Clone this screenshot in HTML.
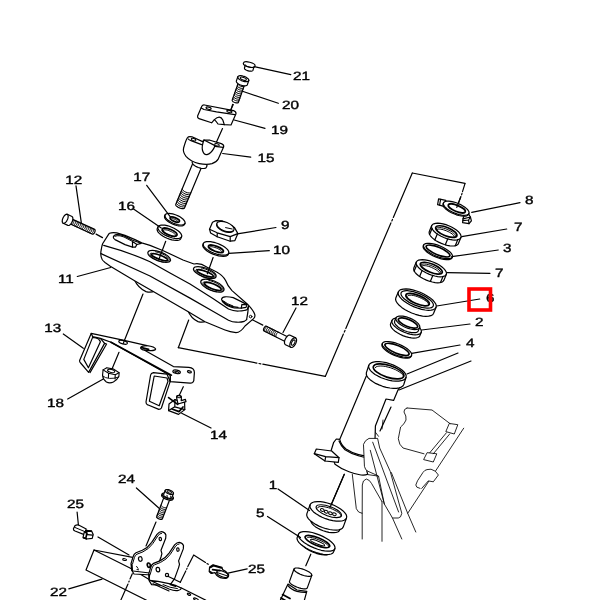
<!DOCTYPE html>
<html><head><meta charset="utf-8"><title>Steering parts diagram</title>
<style>
html,body{margin:0;padding:0;background:#fff;}
body{width:600px;height:600px;overflow:hidden;}
svg{display:block;}
text{font-family:"Liberation Sans",sans-serif;font-size:12px;fill:#000;stroke:#000;stroke-width:0.4;text-rendering:geometricPrecision;}
.l{stroke:#000;stroke-width:1.2;fill:none;stroke-linecap:round;stroke-linejoin:round;}
.w{stroke:#000;stroke-width:1.2;fill:#fff;stroke-linecap:round;stroke-linejoin:round;}
.t{stroke:#000;stroke-width:1.0;fill:none;stroke-linecap:round;stroke-linejoin:round;}
.f{stroke:#000;stroke-width:0.85;fill:none;stroke-linecap:round;stroke-linejoin:round;}
.k{stroke:#000;stroke-width:1.7;fill:none;stroke-linecap:round;stroke-linejoin:round;}
</style></head><body>
<svg width="600" height="600" viewBox="0 0 600 600">
<rect width="600" height="600" fill="#fff"/>
<!-- p_10_guides.py -->
<g><line class="l" x1="188.7" y1="320" x2="178.3" y2="347.7"/>
<line class="l" x1="178.3" y1="347.7" x2="256.9" y2="363.1"/>
<line class="l" x1="259" y1="363.5" x2="260.8" y2="363.8"/>
<line class="l" x1="262.8" y1="364.2" x2="325.3" y2="376.4"/>
<line class="l" x1="325.3" y1="376.4" x2="343.4" y2="334"/>
<line class="l" x1="344.3" y1="332.1" x2="345" y2="330.4"/>
<line class="l" x1="345.8" y1="328.5" x2="390.9" y2="222.9"/>
<line class="l" x1="391.8" y1="221" x2="392.5" y2="219.4"/>
<line class="l" x1="393.3" y1="217.4" x2="412.3" y2="173"/>
<line class="l" x1="412.3" y1="173" x2="465" y2="183.4"/></g>
<!-- p_20_top.py -->
<g><path class="w" d="M253.7 67.7 L253.7 67.3 L253.5 66.9 L253.2 66.5 L252.7 66.1 L252.2 65.7 L251.5 65.4 L250.7 65.1 L249.9 64.8 L249 64.6 L248.2 64.5 L247.4 64.5 L246.7 64.6 L246.1 64.7 L245.6 64.9 L245.3 65.2 L245.1 65.5 L244.5 68 L244.5 68.4 L244.6 68.8 L244.9 69.2 L245.4 69.6 L246 70 L246.7 70.3 L247.5 70.7 L248.3 70.9 L249.1 71.1 L249.9 71.2 L250.7 71.2 L251.4 71.2 L252 71 L252.5 70.8 L252.8 70.6 L253 70.2 Z"/>
<ellipse class="w" cx="249.2" cy="64.6" rx="6" ry="2.4" transform="rotate(194.6 249.2 64.6)"/>
<path class="t" d="M245.4 64.8 L245.5 65.1 L245.8 65.5 L246.1 65.8 L246.6 66.1 L247.1 66.4 L247.7 66.7 L248.4 66.9 L249.1 67.1 L249.8 67.3 L250.5 67.4 L251.2 67.5 L251.8 67.5 L252.4 67.4 L252.8 67.3 L253.2 67.1 L253.4 66.9"/>
<path class="w" d="M244.9 83.9 L245 83.7 L244.9 83.4 L244.7 83 L244.4 82.7 L243.9 82.4 L243.4 82.1 L242.9 81.8 L242.3 81.5 L241.7 81.4 L241.1 81.2 L240.5 81.1 L240 81.1 L239.5 81.2 L239.1 81.3 L238.9 81.5 L238.7 81.7 L232.2 100.1 L232.2 100.4 L232.3 100.7 L232.5 101 L232.8 101.4 L233.2 101.7 L233.7 102 L234.3 102.3 L234.9 102.5 L235.5 102.7 L236.1 102.9 L236.7 102.9 L237.2 102.9 L237.7 102.9 L238 102.7 L238.3 102.6 L238.4 102.3 Z"/>
<path class="t" d="M238 83.8 L238 84.4 L238.6 85.1 L239.5 85.7 L240.6 86.2 L241.9 86.6 L243 86.6 L243.8 86.4 L244.2 86"/>
<path class="t" d="M237.4 85.6 L237.4 86.2 L237.9 86.9 L238.8 87.5 L240 88 L241.2 88.3 L242.3 88.4 L243.2 88.2 L243.6 87.8"/>
<path class="t" d="M236.7 87.4 L236.8 88 L237.3 88.6 L238.2 89.3 L239.4 89.8 L240.6 90.1 L241.7 90.2 L242.5 90 L242.9 89.6"/>
<path class="t" d="M236.1 89.2 L236.1 89.8 L236.7 90.4 L237.6 91.1 L238.7 91.6 L240 91.9 L241.1 92 L241.9 91.8 L242.3 91.4"/>
<path class="t" d="M235.4 91 L235.5 91.6 L236 92.2 L236.9 92.9 L238.1 93.4 L239.3 93.7 L240.4 93.8 L241.3 93.6 L241.7 93.2"/>
<path class="t" d="M234.8 92.8 L234.9 93.4 L235.4 94 L236.3 94.7 L237.5 95.2 L238.7 95.5 L239.8 95.6 L240.6 95.4 L241 95"/>
<path class="t" d="M234.2 94.6 L234.2 95.1 L234.8 95.8 L235.7 96.5 L236.8 97 L238.1 97.3 L239.2 97.4 L240 97.2 L240.4 96.8"/>
<path class="t" d="M233.5 96.4 L233.6 96.9 L234.1 97.6 L235 98.2 L236.2 98.8 L237.4 99.1 L238.5 99.2 L239.4 99 L239.8 98.6"/>
<path class="t" d="M232.9 98.1 L233 98.7 L233.5 99.4 L234.4 100 L235.6 100.6 L236.8 100.9 L237.9 101 L238.7 100.8 L239.1 100.4"/>
<path class="w" d="M248.8 80.6 L248.8 80.2 L248.7 79.6 L248.3 79 L247.7 78.4 L247 77.9 L246.1 77.3 L245.2 76.8 L244.1 76.4 L243 76.1 L242 75.8 L240.9 75.7 L240 75.7 L239.2 75.8 L238.6 76 L238.1 76.4 L237.8 76.8 L236.4 80.9 L236.3 81.4 L236.5 81.9 L236.8 82.5 L237.4 83.1 L238.1 83.7 L239 84.2 L240 84.7 L241 85.1 L242.1 85.5 L243.2 85.7 L244.2 85.8 L245.1 85.8 L245.9 85.7 L246.6 85.5 L247 85.2 L247.3 84.8 Z"/>
<path class="l" d="M237.8 76.8 L237.8 77.2 L237.9 77.8 L238.3 78.4 L238.9 79 L239.6 79.5 L240.5 80.1 L241.4 80.6 L242.5 81 L243.6 81.3 L244.6 81.6 L245.7 81.7 L246.6 81.7 L247.4 81.6 L248 81.4 L248.5 81 L248.8 80.6"/>
<ellipse class="t" cx="243.3" cy="78.7" rx="3.2" ry="1.3" transform="rotate(199.5 243.3 78.7)"/>
<line class="l" x1="232.6" y1="104.3" x2="231" y2="109.8"/>
<path class="w" d="M201.8,106.2 L197.6,116 Q197.2,118 199,118.6 L211.6,122.8 L214.4,119.6 Q220,114.5 222.8,120 L224.3,124.6 L231,125 L236,113.8 Q236.2,111.6 233.6,110.6 L204.5,105 Q202.5,104.8 201.8,106.2 Z"/>
<path class="l" d="M201.2,108 L204,109.5 L216.5,111.8 L234.8,114.7"/>
<path class="l" d="M214.4,119.6 Q216.5,121.5 218,124 L224.3,124.6"/>
<ellipse class="l" cx="208.6" cy="108.2" rx="2.6" ry="1.1" transform="rotate(195 208.6 108.2)"/>
<ellipse class="l" cx="229.4" cy="111.4" rx="2.6" ry="1.1" transform="rotate(195 229.4 111.4)"/>
<line class="l" x1="233.3" y1="104.6" x2="230.2" y2="111"/>
<line class="l" x1="222.5" y1="128.5" x2="215.6" y2="144"/>
<path class="w" d="M201.3 167.7 L201.3 167.3 L201.2 166.9 L201 166.4 L200.5 166 L199.9 165.5 L199.3 165 L198.5 164.5 L197.6 164.1 L196.8 163.8 L195.9 163.6 L195.1 163.4 L194.3 163.4 L193.7 163.4 L193.1 163.5 L192.7 163.8 L192.5 164.1 L175.8 204.3 L175.7 204.7 L175.8 205.1 L176.1 205.6 L176.5 206.1 L177.1 206.6 L177.8 207.1 L178.6 207.5 L179.4 207.9 L180.3 208.2 L181.1 208.5 L182 208.6 L182.7 208.7 L183.4 208.6 L183.9 208.5 L184.3 208.3 L184.5 208 Z"/>
<path class="t" d="M182.3 188.6 L182.3 189.4 L183.1 190.4 L184.3 191.4 L185.9 192.2 L187.7 192.8 L189.3 193 L190.4 192.8 L191.1 192.3"/>
<path class="t" d="M181.6 190.4 L181.6 191.2 L182.3 192.2 L183.6 193.1 L185.2 194 L187 194.5 L188.5 194.7 L189.7 194.6 L190.3 194"/>
<path class="t" d="M180.8 192.1 L180.9 193 L181.6 193.9 L182.9 194.9 L184.5 195.7 L186.2 196.3 L187.8 196.5 L189 196.3 L189.6 195.8"/>
<path class="t" d="M180.1 193.9 L180.2 194.7 L180.9 195.7 L182.1 196.6 L183.8 197.5 L185.5 198 L187.1 198.3 L188.3 198.1 L188.9 197.5"/>
<path class="t" d="M179.4 195.6 L179.4 196.5 L180.1 197.4 L181.4 198.4 L183 199.2 L184.8 199.8 L186.3 200 L187.5 199.8 L188.1 199.3"/>
<path class="t" d="M178.6 197.4 L178.7 198.2 L179.4 199.2 L180.7 200.1 L182.3 201 L184 201.5 L185.6 201.8 L186.8 201.6 L187.4 201.1"/>
<path class="t" d="M177.9 199.2 L178 200 L178.7 200.9 L179.9 201.9 L181.6 202.7 L183.3 203.3 L184.9 203.5 L186.1 203.3 L186.7 202.8"/>
<path class="t" d="M177.2 200.9 L177.2 201.7 L177.9 202.7 L179.2 203.7 L180.8 204.5 L182.6 205.1 L184.2 205.3 L185.3 205.1 L186 204.6"/>
<path class="t" d="M176.5 202.7 L176.5 203.5 L177.2 204.4 L178.5 205.4 L180.1 206.2 L181.8 206.8 L183.4 207 L184.6 206.8 L185.2 206.3"/>
<path class="w" d="M206.9 166.1 L207 165.5 L206.8 164.8 L206.3 164.1 L205.6 163.3 L204.6 162.5 L203.5 161.8 L202.2 161.1 L200.9 160.6 L199.5 160.1 L198.1 159.7 L196.8 159.5 L195.5 159.5 L194.5 159.6 L193.7 159.8 L193 160.2 L192.7 160.7 L192.2 161.9 L192.2 162.5 L192.4 163.2 L192.8 163.9 L193.5 164.7 L194.5 165.5 L195.6 166.2 L196.9 166.9 L198.3 167.5 L199.7 167.9 L201.1 168.3 L202.4 168.5 L203.6 168.5 L204.6 168.4 L205.5 168.2 L206.1 167.8 L206.4 167.3 Z"/>
<path class="w" d="M187.5,137.6 Q186,139.5 183.6,148 Q182.6,152 186,156.4 Q191,162 199.2,163.6 Q207,165 212,163.6 Q216.6,162 218,159.4 L223.7,146.8 Q224,144.6 221.3,143.6 L210,140.2 L204,140 L202.6,141.6 L192,136.8 Q188.6,136 187.5,137.6 Z"/>
<path class="w" d="M204,140 Q201.6,146 202.4,150 Q203.6,155 207,154.6 Q211,153.6 213.8,148.4 L215,145.6 L204,140 Z"/>
<path class="l" d="M215,146.4 L223.2,147.4"/>
<path class="l" d="M188.2,139 Q189,140 191,140.6 L201.6,144.6"/>
<ellipse class="t" cx="193.6" cy="139.6" rx="2.4" ry="1.1" transform="rotate(200 193.6 139.6)"/>
<ellipse class="t" cx="217" cy="144.8" rx="2.4" ry="1.1" transform="rotate(195 217 144.8)"/></g>
<!-- p_30_yoke.py -->
<g><line class="l" x1="143" y1="294" x2="123.3" y2="343.3"/>
<path class="w" d="M134,279 Q138,288 146,291.6 Q151,293 154.6,291 Z"/>
<path class="w" d="M187.6,310 Q191,318.5 198,321.6 Q203,323 206,321 Z"/>
<path class="w" d="M109.6,233.3 Q112,232.3 116.7,232.9 L125,235.4 L135,239.6 L141.7,242.9 L150,245.4 L163.3,250.7 L183,260 L194,264 Q200,262.6 206.7,267 L216.7,272 Q223,275.5 225.6,280.5 Q227.6,286 232,290.6 L247.5,304.2 Q253,310 254.6,314 Q255.6,317 253.6,318.6 L245,326 Q240.5,332.6 236,332.6 Q230,332 225,330 L205,321.7 L188.3,311.7 L153.7,291.7 L135,281 L110.3,266.3 L105,262.6 Q101.6,260 101.2,257 Q100.4,253 101.2,250 Q101.8,246 102.6,243.8 L108.4,234.6 Q109,233.6 109.6,233.3 Z"/>
<path class="l" d="M103.7,245.4 Q130,252.5 150,261.8 L170,273 L190,284.1 L213.3,298.7 L228.5,309 Q234,311.4 239,311 Q245,311 247.2,309.6 L248.4,306.4"/>
<path class="l" d="M101,253.6 L150,276 L190,298.1 L213.3,311.5 L228.5,320.3 Q233,322.4 236.7,322.2 Q241,322.4 244.3,321.4 L246.6,319.6"/>
<path class="l" d="M248.4,306.4 L247.8,312.7 L246.6,319.7"/>
<circle class="t" cx="250.6" cy="316.6" r="1.3"/>
<path class="w" d="M113.3,237.1 Q113.8,235 116.7,234.7 Q120,234.6 124.2,235.9 L132.5,240.2 L141.2,243.3 L136.9,244.5 L135.4,247.1 L132.5,247.1 L125,244.6 L115,239.6 Q113.2,238.4 113.3,237.1 Z"/>
<path class="l" d="M132.5,241.6 L132.5,247.1 M132.5,241.6 L136.9,244.5"/>
<path class="t" d="M115,236.2 Q117,235.4 120,235.8 L124,237 L132,241.2"/>
<path class="w" d="M221.5,299.3 Q222,297 225,296.8 Q229,296.6 233.2,297.6 L241.3,301.6 L247,304.6 L246,307.4 L241.3,308.2 L234.3,308 Q228,306.4 225,304 Q221.6,301.4 221.5,299.3 Z"/>
<path class="l" d="M241.9,304.4 L241.3,308.2 M241.9,304.4 L247,304.8"/>
<path class="l" d="M222.6,300.6 Q224,303 228,305 Q232,307 238,307.4"/>
<path class="t" d="M224,301.4 Q227,304 233,306"/>
<ellipse class="w" cx="159.2" cy="256.4" rx="12" ry="4.6" transform="rotate(200.5 159.2 256.4)"/>
<ellipse class="k" cx="159.6" cy="257.2" rx="8.6" ry="2.1" transform="rotate(200.5 159.6 257.2)"/>
<path class="t" d="M168.2 261.2 L168.8 260.9 L169.2 260.4 L169.3 259.9 L169.3 259.3 L168.9 258.6 L168.4 257.9 L167.7 257.1 L166.7 256.4 L165.6 255.6 L164.4 254.9 L163 254.2 L161.5 253.5 L160 253 L158.5 252.5 L157 252.1 L155.6 251.8"/>
<path class="t" d="M151.1 253.1 L150.5 253.4 L150.2 253.8 L150.1 254.3 L150.1 254.9 L150.5 255.5 L151 256.2 L151.7 256.9 L152.6 257.7 L153.7 258.4 L154.9 259.1 L156.3 259.8 L157.7 260.4 L159.1 260.9 L160.6 261.4 L162 261.8 L163.4 262.1"/>
<ellipse class="w" cx="204.8" cy="272.6" rx="12" ry="4.6" transform="rotate(200.5 204.8 272.6)"/>
<ellipse class="k" cx="205.2" cy="273.4" rx="8.6" ry="2.1" transform="rotate(200.5 205.2 273.4)"/>
<path class="t" d="M213.8 277.4 L214.4 277.1 L214.8 276.6 L214.9 276.1 L214.9 275.5 L214.5 274.8 L214 274.1 L213.3 273.3 L212.3 272.6 L211.2 271.8 L210 271.1 L208.6 270.4 L207.1 269.7 L205.6 269.2 L204.1 268.7 L202.6 268.3 L201.2 268"/>
<path class="t" d="M196.7 269.3 L196.1 269.6 L195.8 270 L195.7 270.5 L195.7 271.1 L196.1 271.7 L196.6 272.4 L197.3 273.1 L198.2 273.9 L199.3 274.6 L200.5 275.3 L201.9 276 L203.3 276.6 L204.7 277.1 L206.2 277.6 L207.6 278 L209 278.3"/>
<ellipse class="w" cx="212.4" cy="285.6" rx="12.4" ry="5" transform="rotate(202 212.4 285.6)"/>
<ellipse class="k" cx="212.8" cy="286.4" rx="9" ry="2.5" transform="rotate(202 212.8 286.4)"/>
<path class="t" d="M221.6 290.9 L222.2 290.5 L222.7 290 L222.8 289.4 L222.8 288.8 L222.5 288 L222 287.2 L221.2 286.4 L220.3 285.6 L219.1 284.7 L217.9 283.9 L216.5 283.2 L215 282.4 L213.5 281.8 L211.9 281.3 L210.4 280.8 L208.9 280.5"/>
<path class="t" d="M204.1 281.8 L203.5 282.1 L203.1 282.6 L202.9 283.1 L203 283.8 L203.3 284.5 L203.8 285.3 L204.5 286.1 L205.4 286.9 L206.5 287.7 L207.8 288.4 L209.1 289.2 L210.6 289.9 L212.1 290.5 L213.6 291 L215.1 291.4 L216.5 291.7"/>
<line class="l" x1="165.7" y1="241.3" x2="159.3" y2="258.3"/>
<line class="l" x1="213.1" y1="257.5" x2="207.3" y2="273.8"/>
<path class="w" d="M185 223.4 L185.1 222.5 L184.8 221.5 L184.2 220.5 L183.2 219.3 L181.9 218.2 L180.3 217.1 L178.6 216.1 L176.7 215.2 L174.7 214.5 L172.7 213.9 L170.8 213.6 L169.1 213.4 L167.6 213.5 L166.4 213.8 L165.6 214.3 L165 215 L164.6 216 L164.5 216.9 L164.7 217.9 L165.4 219 L166.4 220.1 L167.7 221.2 L169.2 222.3 L171 223.3 L172.9 224.2 L174.9 224.9 L176.9 225.5 L178.7 225.8 L180.4 226 L181.9 225.9 L183.1 225.6 L184 225.1 L184.5 224.4 Z"/>
<path class="l" d="M165 215 L164.9 215.9 L165.2 216.9 L165.8 217.9 L166.8 219.1 L168.1 220.2 L169.7 221.3 L171.4 222.3 L173.3 223.2 L175.3 223.9 L177.3 224.5 L179.2 224.8 L180.9 225 L182.4 224.9 L183.6 224.6 L184.4 224.1 L185 223.4"/>
<ellipse class="k" cx="174.8" cy="219.6" rx="5" ry="1.9" transform="rotate(202.7 174.8 219.6)"/>
<path class="t" d="M177.7 221.8 L177.9 221.7 L177.8 221.4 L177.7 221.1 L177.3 220.8 L176.9 220.4 L176.3 220.1 L175.6 219.7 L174.9 219.4 L174.2 219.1 L173.5 218.9 L172.8 218.7 L172.2 218.6 L171.8 218.6 L171.4 218.7 L171.2 218.9 L171.2 219.1"/>
<path class="w" d="M181.6 236.7 L181.8 235.7 L181.4 234.6 L180.7 233.3 L179.5 232 L178 230.7 L176.1 229.4 L174 228.2 L171.7 227.2 L169.4 226.3 L167.1 225.6 L164.8 225.2 L162.8 225 L161.1 225.1 L159.6 225.5 L158.6 226.1 L158 226.9 L157.2 228.7 L157.1 229.7 L157.4 230.8 L158.1 232.1 L159.3 233.4 L160.9 234.7 L162.7 236 L164.8 237.2 L167.1 238.3 L169.4 239.1 L171.8 239.8 L174 240.2 L176 240.4 L177.8 240.3 L179.2 240 L180.2 239.4 L180.8 238.6 Z"/>
<path class="l" d="M158 226.9 L157.8 227.9 L158.2 229 L158.9 230.3 L160.1 231.6 L161.6 232.9 L163.5 234.2 L165.6 235.4 L167.9 236.4 L170.2 237.3 L172.5 238 L174.8 238.4 L176.8 238.6 L178.5 238.5 L180 238.1 L181 237.5 L181.6 236.7"/>
<ellipse class="k" cx="169.6" cy="232.2" rx="8" ry="2.9" transform="rotate(202.7 169.6 232.2)"/>
<path class="t" d="M175.2 235.7 L175.5 235.4 L175.4 234.9 L175.1 234.3 L174.5 233.7 L173.7 233 L172.6 232.3 L171.4 231.7 L170.1 231.1 L168.8 230.6 L167.5 230.2 L166.2 229.9 L165.2 229.8 L164.3 229.8 L163.7 230 L163.3 230.3 L163.2 230.7"/>
<path class="w" d="M228.7 253.2 L228.8 252.2 L228.5 251 L227.6 249.7 L226.3 248.4 L224.6 247 L222.6 245.7 L220.3 244.6 L217.8 243.5 L215.3 242.7 L212.8 242.1 L210.5 241.7 L208.3 241.6 L206.4 241.7 L204.9 242.1 L203.9 242.7 L203.3 243.6 L202.9 244.7 L202.7 245.8 L203.1 246.9 L204 248.2 L205.3 249.6 L207 250.9 L209 252.2 L211.3 253.4 L213.7 254.4 L216.3 255.2 L218.7 255.9 L221.1 256.2 L223.3 256.4 L225.1 256.2 L226.6 255.8 L227.7 255.2 L228.3 254.3 Z"/>
<path class="l" d="M203.3 243.6 L203.2 244.6 L203.5 245.8 L204.4 247.1 L205.7 248.4 L207.4 249.8 L209.4 251.1 L211.7 252.2 L214.2 253.3 L216.7 254.1 L219.2 254.7 L221.5 255.1 L223.7 255.2 L225.6 255.1 L227.1 254.7 L228.1 254.1 L228.7 253.2"/>
<ellipse class="k" cx="215.9" cy="248.8" rx="8" ry="2.6" transform="rotate(200.7 215.9 248.8)"/>
<path class="t" d="M221.6 252.1 L221.8 251.8 L221.7 251.4 L221.3 250.9 L220.7 250.3 L219.8 249.7 L218.7 249.1 L217.5 248.5 L216.2 247.9 L214.8 247.5 L213.5 247.1 L212.3 246.8 L211.2 246.7 L210.4 246.7 L209.8 246.9 L209.4 247.1 L209.4 247.5"/>
<path class="w" d="M212.5,222.2 L209.5,229.2 L210.6,233 L217.2,236.8 L230.2,241.2 L234.9,240.6 L237.9,233.6 L234.5,227.6 L222,220.8 L216,220.6 Z"/>
<path class="l" d="M209.5,229.2 L217.2,232.8 L230.2,236.6 L237.9,233.6 M217.2,232.8 L217.2,236.8 M230.2,236.6 L230.2,241.2"/>
<ellipse class="w" cx="225.4" cy="226.6" rx="9.2" ry="4.4" transform="rotate(201 225.4 226.6)"/>
<path class="l" d="M216.8 224.1 L216.7 224.9 L216.8 225.9 L217.4 226.8 L218.2 227.9 L219.3 228.8 L220.6 229.8 L222 230.6 L223.7 231.3 L225.3 231.9 L227 232.2 L228.6 232.4 L230.1 232.4 L231.3 232.2 L232.4 231.8 L233.1 231.2 L233.6 230.5"/>
<line class="t" x1="225.6" y1="227.6" x2="232.2" y2="229"/>
<path class="w" d="M71 218.6 L70.8 218.5 L70.5 218.6 L70.2 218.7 L69.9 218.9 L69.6 219.2 L69.3 219.6 L69 220 L68.8 220.4 L68.6 220.9 L68.5 221.4 L68.4 221.8 L68.4 222.3 L68.4 222.6 L68.5 222.9 L68.6 223.2 L68.8 223.3 L92.5 234.2 L92.7 234.2 L93 234.2 L93.3 234 L93.6 233.8 L93.9 233.5 L94.2 233.2 L94.5 232.8 L94.7 232.3 L94.9 231.8 L95 231.4 L95.1 230.9 L95.1 230.5 L95.1 230.1 L95 229.8 L94.9 229.6 L94.7 229.4 Z"/>
<path class="t" d="M69.8 223.7 L70.3 223.8 L70.9 223.4 L71.5 222.8 L72 221.9 L72.3 221 L72.4 220.1 L72.3 219.4 L71.9 219"/>
<path class="t" d="M71.4 224.5 L71.9 224.5 L72.5 224.2 L73.1 223.5 L73.6 222.6 L73.9 221.7 L74 220.8 L73.9 220.1 L73.6 219.8"/>
<path class="t" d="M73 225.2 L73.5 225.3 L74.1 224.9 L74.7 224.3 L75.2 223.4 L75.6 222.5 L75.7 221.6 L75.5 220.9 L75.2 220.5"/>
<path class="t" d="M74.7 226 L75.2 226 L75.8 225.7 L76.4 225 L76.9 224.1 L77.2 223.2 L77.3 222.3 L77.2 221.6 L76.8 221.3"/>
<path class="t" d="M76.3 226.7 L76.8 226.8 L77.4 226.4 L78 225.8 L78.5 224.9 L78.8 224 L79 223.1 L78.8 222.4 L78.5 222"/>
<path class="t" d="M77.9 227.5 L78.5 227.5 L79.1 227.2 L79.7 226.5 L80.2 225.6 L80.5 224.7 L80.6 223.8 L80.5 223.1 L80.1 222.8"/>
<path class="t" d="M79.6 228.2 L80.1 228.3 L80.7 227.9 L81.3 227.3 L81.8 226.4 L82.1 225.5 L82.2 224.6 L82.1 223.9 L81.7 223.5"/>
<path class="t" d="M81.2 229 L81.7 229 L82.3 228.7 L82.9 228 L83.4 227.1 L83.8 226.2 L83.9 225.3 L83.7 224.6 L83.4 224.3"/>
<path class="t" d="M82.8 229.7 L83.4 229.8 L84 229.4 L84.6 228.8 L85.1 227.9 L85.4 227 L85.5 226.1 L85.4 225.4 L85 225"/>
<path class="t" d="M84.5 230.5 L85 230.5 L85.6 230.2 L86.2 229.5 L86.7 228.6 L87 227.7 L87.1 226.8 L87 226.1 L86.6 225.8"/>
<path class="t" d="M86.1 231.2 L86.6 231.3 L87.2 230.9 L87.8 230.3 L88.3 229.4 L88.7 228.4 L88.8 227.6 L88.6 226.9 L88.3 226.5"/>
<path class="t" d="M87.8 232 L88.3 232 L88.9 231.7 L89.5 231 L90 230.1 L90.3 229.2 L90.4 228.3 L90.3 227.6 L89.9 227.3"/>
<path class="t" d="M89.4 232.7 L89.9 232.8 L90.5 232.4 L91.1 231.8 L91.6 230.9 L91.9 229.9 L92 229.1 L91.9 228.4 L91.6 228"/>
<path class="t" d="M91 233.5 L91.5 233.5 L92.2 233.2 L92.7 232.5 L93.2 231.6 L93.6 230.7 L93.7 229.8 L93.5 229.1 L93.2 228.8"/>
<path class="w" d="M67.2 214.3 L66.8 214.2 L66.3 214.3 L65.7 214.6 L65.1 215 L64.6 215.5 L64 216.2 L63.5 217 L63.1 217.8 L62.7 218.7 L62.4 219.6 L62.3 220.5 L62.2 221.3 L62.3 222 L62.5 222.5 L62.8 223 L63.2 223.3 L67.9 225.4 L68.3 225.5 L68.9 225.5 L69.4 225.2 L70 224.8 L70.6 224.3 L71.1 223.6 L71.6 222.8 L72.1 221.9 L72.4 221.1 L72.7 220.2 L72.8 219.3 L72.9 218.5 L72.8 217.8 L72.6 217.2 L72.3 216.8 L72 216.5 Z"/>
<path class="l" d="M63.2 223.3 L63.6 223.4 L64.1 223.3 L64.7 223 L65.3 222.6 L65.8 222.1 L66.4 221.4 L66.9 220.6 L67.3 219.8 L67.7 218.9 L68 218 L68.1 217.1 L68.2 216.3 L68.1 215.6 L67.9 215.1 L67.6 214.6 L67.2 214.3"/>
<line class="l" x1="96.1" y1="234.1" x2="102.5" y2="237.6"/>
<path class="w" d="M286.6 342.3 L286.9 342.4 L287.2 342.4 L287.5 342.3 L287.8 342 L288.2 341.8 L288.5 341.4 L288.8 341 L289 340.5 L289.3 340 L289.4 339.5 L289.5 339.1 L289.5 338.6 L289.5 338.2 L289.4 337.9 L289.3 337.7 L289 337.5 L266.4 326.2 L266.2 326.1 L265.9 326.1 L265.5 326.2 L265.2 326.5 L264.9 326.7 L264.6 327.1 L264.3 327.5 L264 328 L263.8 328.5 L263.6 329 L263.5 329.4 L263.5 329.9 L263.5 330.3 L263.6 330.6 L263.8 330.8 L264 331 Z"/>
<path class="t" d="M278.8 332.3 L278.2 332.3 L277.6 332.6 L276.9 333.3 L276.3 334.2 L276 335.1 L275.8 336 L276 336.8 L276.3 337.2"/>
<path class="t" d="M277.2 331.5 L276.6 331.5 L275.9 331.8 L275.3 332.5 L274.7 333.4 L274.4 334.3 L274.2 335.2 L274.4 336 L274.7 336.4"/>
<path class="t" d="M275.5 330.7 L275 330.7 L274.3 331 L273.7 331.7 L273.1 332.5 L272.8 333.5 L272.6 334.4 L272.8 335.2 L273.1 335.6"/>
<path class="t" d="M273.9 329.9 L273.4 329.9 L272.7 330.2 L272.1 330.9 L271.5 331.7 L271.1 332.7 L271 333.6 L271.1 334.3 L271.5 334.8"/>
<path class="t" d="M272.3 329.1 L271.8 329.1 L271.1 329.4 L270.5 330.1 L269.9 330.9 L269.5 331.9 L269.4 332.8 L269.5 333.5 L269.9 334"/>
<path class="t" d="M270.7 328.3 L270.2 328.3 L269.5 328.6 L268.9 329.3 L268.3 330.1 L267.9 331.1 L267.8 332 L267.9 332.7 L268.3 333.1"/>
<path class="t" d="M269.1 327.5 L268.6 327.5 L267.9 327.8 L267.2 328.4 L266.7 329.3 L266.3 330.3 L266.2 331.2 L266.3 331.9 L266.7 332.3"/>
<path class="t" d="M267.5 326.7 L266.9 326.7 L266.3 327 L265.6 327.6 L265.1 328.5 L264.7 329.5 L264.6 330.4 L264.7 331.1 L265.1 331.5"/>
<path class="w" d="M290.8 347.3 L291.3 347.5 L291.9 347.4 L292.5 347.2 L293.2 346.8 L293.9 346.2 L294.5 345.5 L295.1 344.7 L295.6 343.8 L296 342.8 L296.3 341.9 L296.5 341 L296.6 340.1 L296.5 339.3 L296.3 338.7 L296 338.2 L295.6 337.9 L290.2 335.2 L289.7 335 L289.1 335.1 L288.5 335.3 L287.8 335.7 L287.2 336.3 L286.6 337 L286 337.8 L285.5 338.7 L285 339.7 L284.7 340.6 L284.5 341.6 L284.5 342.4 L284.5 343.2 L284.7 343.8 L285 344.3 L285.5 344.7 Z"/>
<path class="l" d="M295.6 337.9 L295.1 337.7 L294.5 337.8 L293.9 338 L293.2 338.4 L292.5 339 L291.9 339.7 L291.3 340.5 L290.8 341.4 L290.4 342.4 L290.1 343.3 L289.9 344.2 L289.8 345.1 L289.9 345.9 L290.1 346.5 L290.4 347 L290.8 347.3"/>
<ellipse class="t" cx="293.2" cy="342.6" rx="2.9" ry="1.5" transform="rotate(296.6 293.2 342.6)"/>
<line class="l" x1="252.3" y1="319.8" x2="262.8" y2="325.1"/></g>
<!-- p_40_bracket.py -->
<g><path class="w" d="M91.2,333.6 L79.6,360.6 Q79.4,362 80.6,363 L88.6,372.4 L104.6,343.4 L100.4,338.4 Z"/>
<path class="w" d="M92.6,337.4 L83.8,359.4 L88.4,367.8 L100.4,341.8 Q99,338.4 96,338 Z"/>
<path class="l" d="M104.6,343.4 L106.6,344 L90,372.6"/>
<path class="w" d="M153.4,372.6 Q151,373 150.6,375 L146,402 Q146,404.4 147.6,404.8 L158.8,409.4 Q160.6,409.4 161.4,408 L170.2,381.4 L167,374.2 Z"/>
<path class="w" d="M154.2,376 L149.4,401.2 L159.2,405.8 L168,381.2 L167,378 Z"/>
<path class="w" d="M91.2,333.4 L123,340.2 L147,345.6 Q155,346.8 155.6,349 Q155.2,350.8 150,350.6 L144.6,350.2 L173.4,366.6 L188.8,367.4 Q194.4,368 194.4,372.4 L193.8,380.6 Q193,383.4 190,383.2 L170.2,381.6 L170.2,375.6 L111,342.2 L100.4,338.4 L92.6,336.6 Z"/>
<path class="k" d="M111,342.2 L171.4,375.2"/>
<path class="l" d="M170.4,376.6 L170.2,381.6"/>
<ellipse class="l" cx="123.1" cy="342.3" rx="4.4" ry="1.7" transform="rotate(195 123.1 342.3)"/>
<path class="l" d="M147,345.6 Q141,345.8 140.6,347.8 Q141,349.6 144.6,350.2"/>
<path class="k" d="M141.6,347.6 L148.6,349.4"/>
<ellipse class="l" cx="176.6" cy="371.8" rx="3.8" ry="1.7" transform="rotate(192 176.6 371.8)"/>
<ellipse class="t" cx="176.8" cy="372.2" rx="2.2" ry="0.8" transform="rotate(192 176.8 372.2)"/>
<ellipse class="l" cx="189.4" cy="371.8" rx="2" ry="1" transform="rotate(190 189.4 371.8)"/>
<line class="l" x1="124.4" y1="340.4" x2="123.3" y2="343.4"/>
<line class="l" x1="119" y1="352.3" x2="111.7" y2="369.7"/>
<g transform="translate(111 375.4) scale(0.92) translate(-111 -375.4)">
<path class="w" d="M102.4,369.4 L101.8,375.4 Q102.4,380 106,382.6 Q109.6,384.4 113.6,382.6 Q118,380 119.6,376.4 L119.8,372.6 L114,368.6 L106.4,367 Z"/>
<path class="l" d="M102.4,369.4 L108.4,373 L115.6,374.6 L119.8,372.6 M108.4,373 L108.2,377.6 M115.6,374.6 L115.4,379.2"/>
<ellipse class="l" cx="111.2" cy="370.6" rx="4" ry="1.6" transform="rotate(192 111.2 370.6)"/>
<path class="t" d="M101.9,376 Q108,381 119.4,377.2"/>
</g>
<line class="l" x1="183.3" y1="386.7" x2="179.3" y2="395.3"/>
<path class="w" d="M169,404 L175,399.6 L184.6,402.6 L184.8,409.6 L178.6,414.4 L168.6,410.6 Z"/>
<path class="l" d="M175,399.6 L174.8,406.8 L184.8,409.6 M174.8,406.8 L168.6,410.6"/>
<path class="k" d="M168.6,397.6 L177.6,404.4 M172,409 L179,411.6 L183,407"/>
<path class="w" d="M176.6,397.6 Q176.4,395.4 179,395.4 Q181.6,395.8 181.4,398 L181.2,400.6 L185.4,399.4 L186,401.6 L178,404 Z"/>
<ellipse class="t" cx="179" cy="396.6" rx="2.3" ry="1.1" transform="rotate(185 179 396.6)"/></g>
<!-- p_50_lower_left.py -->
<g><path class="w" d="M94,550 L86,570 L150,602 L212,604 L205,599.8 L181,587.8 L150,580 L130,568 Z"/>
<path class="l" d="M94,550 L134,557.6"/>
<ellipse class="t" cx="124.6" cy="559.6" rx="2" ry="0.9" transform="rotate(190 124.6 559.6)"/>
<ellipse class="l" cx="189" cy="594.3" rx="1.8" ry="0.9" transform="rotate(205 189 594.3)"/>
<ellipse class="l" cx="196" cy="599.4" rx="2.6" ry="1" transform="rotate(205 196 599.4)"/>
<path class="l" d="M132.3,573.7 L130,579 M129.2,581 L128.8,582 M128,584 L120,602"/>
<g transform="translate(0 0)">
<path class="w" d="M131.7,570.3 L131,563.7 L133,557 Q133.8,554 136,552.8 L142.3,550.3 Q148,547.6 151.7,542.3 L157,534.3 Q159.4,531.6 161.7,531.7 Q165,532.2 165.9,535 L165.7,538.3 L161,550.3 L161.9,553.7 L161,557 L157,568 L152,575 L134,574 Z"/>
<path class="t" d="M132.6,563.7 L134.4,557.6 Q135,555.2 137,554.2 L143,551.8 Q149,549 152.8,543.6 L158,535.6 Q159.8,533.4 161.6,533.3"/>
<ellipse class="l" cx="160.3" cy="539" rx="1.2" ry="1.7" transform="rotate(170 160.3 539)"/>
<ellipse class="l" cx="140.3" cy="559" rx="1.8" ry="2.3" transform="rotate(170 140.3 559)"/>
</g>
<path class="k" d="M131.8,564.6 L132.2,570.4"/>
<path class="t" d="M136.6,566.4 L138,568.4 M137,569.6 L138.6,569.8"/>
<path class="l" d="M133,571 L149.7,573"/>
<g transform="translate(17.6 10.6)">
<path class="w" d="M131.7,570.3 L131,563.7 L133,557 Q133.8,554 136,552.8 L142.3,550.3 Q148,547.6 151.7,542.3 L157,534.3 Q159.4,531.6 161.7,531.7 Q165,532.2 165.9,535 L165.7,538.3 L161,550.3 L161.9,553.7 L161,557 L157,568 L152,575 L134,574 Z"/>
<path class="t" d="M132.6,563.7 L134.4,557.6 Q135,555.2 137,554.2 L143,551.8 Q149,549 152.8,543.6 L158,535.6 Q159.8,533.4 161.6,533.3"/>
<ellipse class="l" cx="160.3" cy="539" rx="1.2" ry="1.7" transform="rotate(170 160.3 539)"/>
<ellipse class="l" cx="140.3" cy="559" rx="1.8" ry="2.3" transform="rotate(170 140.3 559)"/>
</g>
<ellipse class="k" cx="148.8" cy="565.2" rx="1.5" ry="2.2" transform="rotate(170 148.8 565.2)"/>
<path class="l" d="M149.7,574.3 L149,580"/>
<path class="w" d="M149.7,580.3 L169,589 Q175,591.2 178.3,590.3 Q181.6,589.6 181,588 L176.3,585.7 L169,583.7 L158,581.4 Z"/>
<path class="l" d="M153,583.7 L169,591"/>
<path class="k" d="M170.4,584.4 L175.6,586.2"/>
<path class="t" d="M163,584.6 Q170,588 177.4,588.6"/>
<circle class="w" cx="167" cy="575" r="1.6"/>
<path class="l" d="M167.9,576.3 L180.3,582.3"/>
<path class="l" d="M180.3,582.3 L185.8,571 M186.6,569.2 L187,568.4 M187.8,566.6 L193.7,555 L205.5,562.4 M207,563.6 L208.4,564.2"/>
<path class="w" d="M170.2 498.3 L170.2 498.1 L170.1 497.8 L170 497.5 L169.7 497.2 L169.3 496.9 L168.8 496.6 L168.3 496.3 L167.7 496.1 L167.2 495.9 L166.6 495.7 L166.1 495.7 L165.6 495.6 L165.1 495.7 L164.8 495.8 L164.5 495.9 L164.4 496.1 L156.6 516.7 L156.5 516.9 L156.6 517.2 L156.8 517.5 L157.1 517.8 L157.5 518.1 L157.9 518.4 L158.5 518.7 L159 518.9 L159.6 519.1 L160.2 519.3 L160.7 519.4 L161.2 519.4 L161.6 519.3 L162 519.2 L162.2 519.1 L162.4 518.9 Z"/>
<path class="t" d="M161.1 505.1 L161.1 505.6 L161.6 506.2 L162.4 506.8 L163.4 507.3 L164.6 507.6 L165.6 507.7 L166.3 507.6 L166.7 507.3"/>
<path class="t" d="M160.4 506.8 L160.5 507.3 L161 507.9 L161.8 508.5 L162.8 509 L163.9 509.3 L164.9 509.4 L165.7 509.3 L166 509"/>
<path class="t" d="M159.8 508.5 L159.8 509 L160.3 509.6 L161.1 510.2 L162.2 510.7 L163.3 511 L164.3 511.1 L165 511 L165.4 510.6"/>
<path class="t" d="M159.1 510.2 L159.2 510.7 L159.7 511.3 L160.5 511.9 L161.5 512.4 L162.6 512.7 L163.6 512.8 L164.4 512.7 L164.8 512.3"/>
<path class="t" d="M158.5 511.9 L158.6 512.4 L159 513 L159.8 513.6 L160.9 514 L162 514.4 L163 514.5 L163.7 514.3 L164.1 514"/>
<path class="t" d="M157.9 513.5 L157.9 514 L158.4 514.6 L159.2 515.2 L160.2 515.7 L161.3 516.1 L162.3 516.2 L163.1 516 L163.5 515.7"/>
<path class="t" d="M157.2 515.2 L157.3 515.7 L157.7 516.3 L158.6 516.9 L159.6 517.4 L160.7 517.7 L161.7 517.8 L162.5 517.7 L162.8 517.4"/>
<path class="w" d="M173.3 498.3 L173.4 497.8 L173.2 497.3 L172.8 496.7 L172.3 496.1 L171.5 495.5 L170.6 495 L169.6 494.4 L168.5 494 L167.4 493.6 L166.3 493.3 L165.3 493.2 L164.3 493.1 L163.5 493.1 L162.9 493.3 L162.4 493.6 L162.1 494 L161.7 495.1 L161.6 495.5 L161.8 496.1 L162.2 496.6 L162.8 497.2 L163.5 497.8 L164.4 498.4 L165.4 498.9 L166.5 499.4 L167.6 499.7 L168.7 500 L169.7 500.2 L170.7 500.3 L171.5 500.2 L172.2 500 L172.6 499.7 L172.9 499.4 Z"/>
<path class="l" d="M162.1 494 L162.1 494.4 L162.2 494.9 L162.6 495.5 L163.2 496.1 L163.9 496.7 L164.8 497.3 L165.8 497.8 L166.9 498.2 L168 498.6 L169.1 498.9 L170.2 499.1 L171.1 499.1 L171.9 499.1 L172.6 498.9 L173.1 498.6 L173.3 498.3"/>
<path class="w" d="M173.4 493.6 L173.5 493.2 L173.4 492.7 L173.1 492.3 L172.7 491.8 L172.2 491.3 L171.5 490.9 L170.8 490.5 L170 490.2 L169.2 489.9 L168.4 489.7 L167.6 489.6 L166.9 489.6 L166.3 489.7 L165.8 489.8 L165.4 490.1 L165.2 490.4 L163.7 494.4 L163.6 494.7 L163.7 495.2 L164 495.6 L164.4 496.1 L164.9 496.6 L165.6 497 L166.3 497.4 L167.1 497.8 L167.9 498 L168.7 498.2 L169.5 498.3 L170.2 498.3 L170.8 498.3 L171.3 498.1 L171.7 497.8 L171.9 497.5 Z"/>
<path class="l" d="M165.2 490.4 L165.1 490.8 L165.2 491.3 L165.5 491.7 L165.9 492.2 L166.4 492.7 L167.1 493.1 L167.8 493.5 L168.6 493.8 L169.4 494.1 L170.2 494.3 L171 494.4 L171.7 494.4 L172.3 494.3 L172.8 494.2 L173.2 493.9 L173.4 493.6"/>
<ellipse class="t" cx="169.3" cy="492" rx="2.4" ry="1" transform="rotate(200.9 169.3 492)"/>
<line class="t" x1="167" y1="495.3" x2="167.3" y2="497.7"/>
<line class="t" x1="170.7" y1="496.1" x2="170.9" y2="498.3"/>
<line class="l" x1="156" y1="522" x2="146" y2="546"/>
<g transform="translate(83.6 533) scale(1 1)">
<path class="w" d="M-10.2,-4.2 L-8.4,-7.6 Q-7,-8.4 -5,-8 L2.6,-4 L0.6,1.6 L-8.6,-2 Q-10.4,-2.8 -10.2,-4.2 Z"/>
<path class="t" d="M-8.8,-5.6 L1.2,-1.4"/>
<path class="w" d="M0.6,-0.6 L-0.6,4.6 L3,6 L8.6,5.4 L9.6,1.6 L8,-2 L3,-2.6 Z"/>
<path class="k" d="M1.6,-0.4 L4,-2 L7.6,-1.8 M3.4,0 L2.4,4.4 M0.2,4.8 L2.8,5.8"/>
<path class="l" d="M3.8,1.6 L9,2.2"/>
</g>
<line class="l" x1="98" y1="537" x2="129" y2="555"/>
<path class="w" d="M209.6,567 L209.2,571.6 L211,573.4 L215,572.6 L216.4,575 Q220,578.6 226,578.4 Q229,577.4 228.6,574.6 Q227,571.6 222.6,569.6 L222,567.4 L213,564.8 Z"/>
<path class="k" d="M210.4,567.4 L213.6,565.6 L221.4,568 M212.6,569.6 L220,570.6 M210,571.6 L212,573"/>
<ellipse class="l" cx="222.4" cy="574" rx="6" ry="2.7" transform="rotate(202 222.4 574)"/>
<path class="t" d="M216.6,572.4 L227.6,576"/></g>
<!-- p_60_stack.py -->
<g><path class="l" d="M465,183.6 L462.5,191.6 M462,193.4 L461.6,194.8 M460.8,196.8 L456.8,207.4"/>
<path class="w" d="M438.6,198.8 L445.8,200.4 L445.6,206.8 L437.6,204.6 Z"/>
<path class="l" d="M440.6,199.4 L439.6,205"/>
<path class="w" d="M464.6,214 L463,218.8 L462.6,222.6 L469,223.7 L471.4,220.8 L470.4,217 L468.2,213.4 Z"/>
<path class="l" d="M463,218.8 L470.4,217 M469,223.7 L468.6,220 L463,220.6 M468.6,220 L470.4,217"/>
<path class="w" d="M468.9 213.5 L469.1 212.5 L468.7 211.3 L467.9 210 L466.6 208.6 L464.9 207.2 L462.9 205.9 L460.6 204.6 L458.2 203.5 L455.6 202.5 L453.1 201.8 L450.7 201.3 L448.6 201.1 L446.7 201.2 L445.2 201.5 L444.1 202.1 L443.5 202.9 L443.1 203.8 L442.9 204.9 L443.3 206.1 L444.1 207.4 L445.4 208.7 L447.1 210.1 L449.1 211.5 L451.4 212.7 L453.9 213.8 L456.4 214.8 L458.9 215.5 L461.3 216 L463.5 216.2 L465.3 216.1 L466.8 215.8 L467.9 215.2 L468.6 214.4 Z"/>
<path class="l" d="M443.5 202.9 L443.3 203.9 L443.7 205.1 L444.5 206.4 L445.8 207.8 L447.5 209.2 L449.5 210.5 L451.8 211.8 L454.2 212.9 L456.8 213.9 L459.3 214.6 L461.7 215.1 L463.8 215.3 L465.7 215.2 L467.2 214.9 L468.3 214.3 L468.9 213.5"/>
<ellipse class="k" cx="456.8" cy="208.4" rx="9.2" ry="3" transform="rotate(202.5 456.8 208.4)"/>
<line class="l" x1="460.8" y1="196.8" x2="456.8" y2="207.4"/>
<path class="w" d="M460.9 237.6 L461.1 236.4 L460.7 234.9 L459.8 233.3 L458.4 231.7 L456.4 230 L454.1 228.5 L451.5 227 L448.7 225.7 L445.9 224.6 L443 223.8 L440.2 223.3 L437.7 223.1 L435.5 223.3 L433.8 223.8 L432.5 224.5 L431.7 225.6 L429.3 231.5 L429.1 232.7 L429.4 234.2 L430.4 235.8 L431.8 237.4 L433.7 239.1 L436 240.7 L438.6 242.1 L441.4 243.4 L444.3 244.5 L447.2 245.3 L449.9 245.8 L452.4 246 L454.6 245.8 L456.4 245.4 L457.7 244.6 L458.4 243.6 Z"/>
<path class="l" d="M431.7 225.6 L431.5 226.8 L431.9 228.3 L432.8 229.9 L434.2 231.5 L436.2 233.2 L438.5 234.7 L441.1 236.2 L443.9 237.5 L446.7 238.6 L449.6 239.4 L452.4 239.9 L454.9 240.1 L457.1 239.9 L458.8 239.4 L460.1 238.7 L460.9 237.6"/>
<ellipse class="k" cx="446.3" cy="231.6" rx="11.4" ry="4.2" transform="rotate(202.5 446.3 231.6)"/>
<path class="t" d="M455.2 236.7 L455.4 236 L455.3 235.2 L454.7 234.3 L453.7 233.3 L452.5 232.2 L450.9 231.2 L449.1 230.3 L447.2 229.4 L445.3 228.6 L443.3 228.1 L441.5 227.7 L439.8 227.5 L438.5 227.6 L437.4 227.8 L436.7 228.3 L436.4 228.9"/>
<path class="t" d="M454.1 236.7 L454 236.1 L453.6 235.5 L453 234.7 L452.1 233.9 L450.9 233.1 L449.6 232.3 L448.2 231.6 L446.6 230.9 L445 230.3 L443.5 229.8 L442 229.4 L440.6 229.2 L439.4 229.1 L438.4 229.1 L437.6 229.4 L437.2 229.7"/>
<line class="l" x1="432" y1="228.6" x2="429.6" y2="234.5"/>
<line class="l" x1="437.3" y1="234" x2="434.8" y2="239.9"/>
<line class="l" x1="447.7" y1="238.9" x2="445.3" y2="244.8"/>
<line class="l" x1="457.7" y1="239.8" x2="455.3" y2="245.7"/>
<path class="w" d="M452.4 257 L452.5 255.9 L452.1 254.6 L451.1 253.2 L449.7 251.7 L447.7 250.2 L445.4 248.7 L442.8 247.3 L440.1 246 L437.2 244.9 L434.4 244.1 L431.7 243.5 L429.3 243.3 L427.2 243.3 L425.5 243.6 L424.3 244.2 L423.6 245 L423.2 246 L423.1 247 L423.5 248.3 L424.5 249.7 L426 251.2 L427.9 252.8 L430.2 254.2 L432.8 255.7 L435.6 256.9 L438.4 258 L441.2 258.8 L443.9 259.4 L446.3 259.7 L448.5 259.7 L450.1 259.3 L451.3 258.8 L452 257.9 Z"/>
<path class="l" d="M423.6 245 L423.5 246.1 L423.9 247.4 L424.9 248.8 L426.3 250.3 L428.3 251.8 L430.6 253.3 L433.2 254.7 L435.9 256 L438.8 257.1 L441.6 257.9 L444.3 258.5 L446.7 258.7 L448.8 258.7 L450.5 258.4 L451.7 257.8 L452.4 257"/>
<ellipse class="k" cx="438" cy="251" rx="12.8" ry="3.7" transform="rotate(202.5 438 251)"/>
<path class="w" d="M446.3 274.4 L446.5 273.1 L446.1 271.7 L445.1 270.1 L443.6 268.4 L441.7 266.7 L439.3 265.1 L436.6 263.6 L433.7 262.3 L430.8 261.2 L427.8 260.4 L425 259.8 L422.4 259.6 L420.2 259.8 L418.4 260.2 L417.1 261 L416.3 262 L413.8 268 L413.7 269.3 L414 270.7 L415 272.3 L416.5 274 L418.5 275.7 L420.8 277.3 L423.5 278.8 L426.4 280.1 L429.3 281.2 L432.3 282 L435.1 282.6 L437.7 282.8 L439.9 282.6 L441.7 282.2 L443 281.4 L443.8 280.4 Z"/>
<path class="l" d="M416.3 262 L416.1 263.3 L416.5 264.7 L417.5 266.3 L419 268 L420.9 269.7 L423.3 271.3 L426 272.8 L428.9 274.1 L431.8 275.2 L434.8 276 L437.6 276.6 L440.2 276.8 L442.4 276.6 L444.2 276.2 L445.5 275.4 L446.3 274.4"/>
<ellipse class="k" cx="431.3" cy="268.2" rx="11.8" ry="4.2" transform="rotate(202.5 431.3 268.2)"/>
<path class="t" d="M440.6 273.4 L440.8 272.8 L440.6 272 L440 271 L439 270 L437.7 268.9 L436.1 267.9 L434.2 266.9 L432.2 266 L430.2 265.2 L428.2 264.6 L426.3 264.2 L424.6 264 L423.2 264 L422.1 264.3 L421.4 264.7 L421 265.4"/>
<path class="t" d="M439.5 273.5 L439.4 272.9 L439 272.2 L438.3 271.4 L437.3 270.6 L436.1 269.8 L434.7 269 L433.2 268.2 L431.6 267.5 L430 266.8 L428.3 266.3 L426.8 265.9 L425.3 265.7 L424.1 265.6 L423.1 265.6 L422.3 265.8 L421.8 266.2"/>
<line class="l" x1="416.7" y1="265.1" x2="414.2" y2="271.1"/>
<line class="l" x1="422.1" y1="270.5" x2="419.6" y2="276.5"/>
<line class="l" x1="432.8" y1="275.5" x2="430.3" y2="281.5"/>
<line class="l" x1="443" y1="276.5" x2="440.5" y2="282.5"/>
<path class="w" d="M436 307.4 L436.3 305.8 L435.8 304 L434.5 302.1 L432.7 300 L430.2 297.9 L427.2 295.9 L423.8 294 L420.2 292.3 L416.5 291 L412.8 289.9 L409.2 289.2 L406 288.9 L403.2 289.1 L400.9 289.6 L399.3 290.5 L398.4 291.8 L395.8 297.9 L395.6 299.5 L396.1 301.3 L397.3 303.2 L399.2 305.3 L401.7 307.4 L404.7 309.4 L408 311.3 L411.7 313 L415.4 314.3 L419.1 315.4 L422.6 316.1 L425.9 316.3 L428.7 316.2 L430.9 315.7 L432.6 314.8 L433.5 313.5 Z"/>
<path class="l" d="M398.4 291.8 L398.1 293.4 L398.6 295.2 L399.9 297.1 L401.7 299.2 L404.2 301.3 L407.2 303.3 L410.6 305.2 L414.2 306.9 L417.9 308.2 L421.6 309.3 L425.2 310 L428.4 310.3 L431.2 310.1 L433.5 309.6 L435.1 308.7 L436 307.4"/>
<ellipse class="l" cx="417.2" cy="299.4" rx="17.4" ry="6.2" transform="rotate(202.5 417.2 299.4)"/>
<ellipse class="k" cx="417.6" cy="299.6" rx="12.6" ry="4.3" transform="rotate(202.5 417.6 299.6)"/>
<path class="t" d="M428.5 305 L428.6 304.2 L428.2 303.4 L427.5 302.4 L426.4 301.4 L425 300.3 L423.3 299.3 L421.4 298.3 L419.3 297.4 L417.3 296.6 L415.2 295.9 L413.3 295.5 L411.5 295.2 L410 295.2 L408.8 295.3 L407.9 295.7 L407.5 296.2"/>
<path class="w" d="M421.2 332.4 L421.4 331.2 L421 329.8 L420.1 328.2 L418.6 326.5 L416.7 324.9 L414.4 323.3 L411.8 321.9 L409 320.6 L406.1 319.5 L403.2 318.7 L400.5 318.2 L398 318 L395.8 318.1 L394 318.6 L392.8 319.3 L392 320.4 L390.6 323.7 L390.4 324.9 L390.8 326.4 L391.7 327.9 L393.2 329.6 L395.1 331.2 L397.4 332.8 L400 334.3 L402.8 335.6 L405.7 336.6 L408.6 337.4 L411.3 337.9 L413.8 338.1 L416 338 L417.8 337.5 L419.1 336.8 L419.8 335.8 Z"/>
<path class="l" d="M392 320.4 L391.8 321.6 L392.2 323 L393.1 324.6 L394.6 326.3 L396.5 327.9 L398.8 329.5 L401.4 330.9 L404.2 332.2 L407.1 333.3 L410 334.1 L412.7 334.6 L415.2 334.8 L417.4 334.7 L419.2 334.2 L420.4 333.5 L421.2 332.4"/>
<path class="w" d="M419.6 327.7 L419.8 326.7 L419.5 325.5 L418.7 324.2 L417.5 322.9 L416 321.6 L414.1 320.3 L412 319.1 L409.8 318.1 L407.4 317.2 L405.1 316.6 L402.9 316.1 L400.8 316 L399.1 316.1 L397.6 316.5 L396.6 317.1 L396 317.9 L394.7 321 L394.5 322.1 L394.8 323.2 L395.6 324.5 L396.8 325.8 L398.3 327.2 L400.2 328.4 L402.3 329.6 L404.5 330.7 L406.9 331.5 L409.2 332.2 L411.4 332.6 L413.5 332.7 L415.2 332.6 L416.7 332.3 L417.7 331.7 L418.3 330.8 Z"/>
<path class="l" d="M396 317.9 L395.8 318.9 L396.1 320.1 L396.9 321.4 L398.1 322.7 L399.6 324 L401.5 325.3 L403.6 326.5 L405.8 327.5 L408.2 328.4 L410.5 329 L412.7 329.5 L414.8 329.6 L416.5 329.5 L418 329.1 L419 328.5 L419.6 327.7"/>
<ellipse class="k" cx="408" cy="323" rx="10.4" ry="3.5" transform="rotate(202.5 408 323)"/>
<path class="w" d="M411.6 355.4 L411.7 354.3 L411.3 353 L410.3 351.6 L408.8 350.1 L406.9 348.5 L404.5 347 L401.9 345.6 L399.1 344.3 L396.2 343.2 L393.4 342.4 L390.6 341.8 L388.2 341.5 L386 341.5 L384.3 341.9 L383.1 342.5 L382.4 343.4 L382 344.3 L381.9 345.4 L382.3 346.7 L383.3 348.1 L384.8 349.6 L386.8 351.2 L389.1 352.7 L391.7 354.1 L394.5 355.4 L397.4 356.5 L400.3 357.3 L403 357.9 L405.5 358.2 L407.6 358.2 L409.3 357.9 L410.5 357.2 L411.2 356.4 Z"/>
<path class="l" d="M382.4 343.4 L382.3 344.5 L382.7 345.8 L383.7 347.2 L385.2 348.7 L387.1 350.3 L389.5 351.8 L392.1 353.2 L394.9 354.5 L397.8 355.6 L400.6 356.4 L403.4 357 L405.8 357.3 L408 357.3 L409.7 356.9 L410.9 356.3 L411.6 355.4"/>
<ellipse class="k" cx="397" cy="349.4" rx="13" ry="3.9" transform="rotate(202.5 397 349.4)"/></g>
<!-- p_70_frame.py -->
<g><path class="f" d="M463.7,428.2 L407.7,513.3"/>
<path class="f" d="M449.7,423.5 L457.8,424.7 L454.3,434 L446.2,431.7 Z"/>
<path class="f" d="M446.4,432.8 L429.8,452.7 M449.7,434 L433.3,453.8"/>
<path class="f" d="M427.5,452.7 L436.8,453.8 L433.3,462 L424,459.7 Z"/>
<path class="f" d="M407,408 L432,410 L450,423.6"/>
<path class="f" d="M407,408 Q403.6,409 404,412 Q406.6,416 406,420 Q404.6,424 400.6,427 L398.3,438.7 Q399,445 403,448 L424,453.8"/>
<path class="f" style="fill:#fff" d="M420,488.4 Q415.6,487.6 415.8,485 L417.5,480.8 L423,472.4 Q424.6,470 427,469.6 L431,469.2 Q436,470.4 438.4,475 L433.3,481.8 L428.3,480.9 L421.7,488.4"/>
<line class="l" x1="407" y1="374" x2="458" y2="353"/>
<line class="l" x1="399" y1="390" x2="471" y2="361"/>
<path class="f" d="M391.3,472.5 L407.7,513.3 L415.8,532"/>
<path class="f" d="M352.3,474.3 L356.3,508.7 Q358,513 362.2,513.3 L362.3,485 Q362.6,480 366.3,479 Q369.6,479.6 371.7,483.7 L382,501.7"/>
<path class="f" d="M367.7,474.6 L379.7,476.3"/>
<path class="f" d="M362.2,513.3 L362.2,539 M382,501.7 L382,541.3 M392.5,518 L401.8,539"/>
<path class="f" d="M375,420 L375,431.7 L378.5,436.3 M383,420 L382,429"/>
<path class="w" d="M339.7,439.4 L336.3,439 L333.7,442.3 L331,451 L335,464.3 Q341,469 349,471.7 Q356,474.4 361,475 Q365,475.4 367.7,474.3 L366.3,469 L369,459.7 L372,447 Z"/>
<path class="w" d="M316.3,449 L331.7,451 L339,457.7 L338.3,462.3 L325,461 L314.3,453.7 Z"/>
<path class="l" d="M314.3,453.7 L325.6,456.6 L339,457.7 M325.6,456.6 L325,461"/>
<path class="w" d="M368,372 L339.7,439.4 Q341,445 346,449 Q352,453 358.6,454.6 Q364,456 369.6,455.8 L375,440 L375.4,426 L386,399 L393.6,400.4 L398,390 L405,378 Z"/>
<path class="l" d="M391,407 L380,431"/>
<path class="l" d="M339,441 Q341,446 345,449.7 Q351,453.6 358.3,455.7 Q363,457.4 368,457.6"/>
<path class="w" d="M406 377.5 L406.2 375.8 L405.6 374.1 L404.3 372.2 L402.3 370.3 L399.8 368.4 L396.8 366.7 L393.5 365.1 L389.9 363.8 L386.2 362.7 L382.6 362 L379.1 361.7 L376 361.7 L373.3 362.1 L371.1 362.9 L369.6 364 L368.8 365.3 L366.4 372.6 L366.3 374.2 L366.9 376 L368.2 377.8 L370.1 379.7 L372.6 381.6 L375.6 383.4 L379 384.9 L382.6 386.3 L386.3 387.3 L389.9 388 L393.3 388.3 L396.5 388.3 L399.2 387.9 L401.3 387.1 L402.8 386.1 L403.7 384.7 Z"/>
<path class="l" d="M368.8 365.3 L368.6 367 L369.2 368.7 L370.5 370.6 L372.5 372.5 L375 374.4 L378 376.1 L381.3 377.7 L384.9 379 L388.6 380.1 L392.2 380.8 L395.7 381.1 L398.8 381.1 L401.5 380.7 L403.7 379.9 L405.2 378.8 L406 377.5"/>
<ellipse class="k" cx="388.6" cy="371.4" rx="16" ry="6" transform="rotate(198 388.6 371.4)"/>
<path class="t" d="M403.4 376.7 L403.2 375.7 L402.5 374.6 L401.4 373.4 L399.8 372.2 L397.9 371 L395.7 369.8 L393.3 368.8 L390.7 367.8 L388.1 367.1 L385.5 366.5 L383.1 366.1 L380.8 366 L378.9 366.1 L377.3 366.4 L376.1 366.9 L375.3 367.6"/>
<path class="f" style="fill:#fff" d="M363.6,444 Q365,440 369,438.4 L377.6,438.4 L379.7,448 L390.2,471.3 L401.8,513.3 Q401,518 398.3,518 L392.5,518 L384.3,504 L378.5,476 L368,471.3 Q365,470 364.5,466.7 Z"/>
<path class="f" d="M370.3,450.3 L384.3,504 M372.7,442.2 L398.6,512"/></g>
<!-- p_80_bearings.py -->
<g><line class="l" x1="344.3" y1="474.3" x2="330" y2="507.5"/>
<path class="w" d="M340.7 527.2 L340.8 526 L340.4 524.6 L339.4 523.1 L338 521.6 L336.1 520.1 L333.8 518.7 L331.2 517.4 L328.5 516.3 L325.7 515.4 L322.9 514.7 L320.2 514.4 L317.8 514.3 L315.7 514.5 L314 515 L312.8 515.8 L312.1 516.8 L311 519.8 L310.9 521 L311.3 522.4 L312.3 523.9 L313.7 525.4 L315.6 526.9 L317.9 528.3 L320.5 529.6 L323.2 530.7 L326.1 531.6 L328.9 532.3 L331.5 532.6 L333.9 532.7 L336 532.5 L337.7 532 L338.9 531.2 L339.6 530.2 Z"/>
<path class="w" d="M346.5 518 L346.7 516.5 L346.2 514.7 L344.9 512.9 L343.1 510.9 L340.6 509 L337.7 507.2 L334.5 505.5 L331 504.1 L327.3 503 L323.8 502.1 L320.4 501.7 L317.3 501.6 L314.6 501.8 L312.5 502.5 L310.9 503.5 L310.1 504.8 L306.9 513.6 L306.7 515.1 L307.2 516.9 L308.5 518.8 L310.3 520.7 L312.8 522.6 L315.7 524.4 L318.9 526.1 L322.4 527.5 L326 528.7 L329.6 529.5 L333 530 L336.1 530.1 L338.8 529.8 L340.9 529.2 L342.4 528.2 L343.3 526.9 Z"/>
<path class="l" d="M310.1 504.8 L309.9 506.3 L310.4 508.1 L311.7 509.9 L313.5 511.9 L316 513.8 L318.9 515.6 L322.1 517.3 L325.6 518.7 L329.3 519.8 L332.8 520.7 L336.2 521.1 L339.3 521.2 L342 521 L344.1 520.3 L345.7 519.3 L346.5 518"/>
<ellipse class="l" cx="328.8" cy="511.2" rx="13.4" ry="4.8" transform="rotate(200 328.8 511.2)"/>
<path class="t" d="M340.9 516.4 L340.9 515.6 L340.5 514.7 L339.6 513.6 L338.4 512.5 L336.8 511.4 L334.9 510.4 L332.8 509.3 L330.6 508.4 L328.3 507.7 L326 507.1 L323.9 506.7 L321.9 506.5 L320.3 506.6 L319 506.8 L318 507.3 L317.5 508"/>
<ellipse class="t" cx="322.3" cy="510" rx="1.9" ry="1.3" transform="rotate(200 322.3 510)"/>
<ellipse class="t" cx="326.2" cy="511.8" rx="1.9" ry="1.3" transform="rotate(200 326.2 511.8)"/>
<ellipse class="t" cx="330.4" cy="513.2" rx="1.9" ry="1.3" transform="rotate(200 330.4 513.2)"/>
<ellipse class="t" cx="334.4" cy="514.2" rx="1.9" ry="1.3" transform="rotate(200 334.4 514.2)"/>
<line class="l" x1="344.3" y1="474.3" x2="330" y2="507.5"/>
<path class="w" d="M330.8 551.4 L331 550.2 L330.5 548.9 L329.5 547.4 L328 545.9 L326 544.3 L323.7 542.8 L321 541.3 L318.2 540.1 L315.2 539 L312.3 538.2 L309.6 537.6 L307 537.4 L304.9 537.4 L303.1 537.8 L301.9 538.5 L301.2 539.4 L300.6 540.9 L300.4 542 L300.9 543.4 L301.9 544.9 L303.4 546.4 L305.4 548 L307.7 549.5 L310.4 551 L313.2 552.2 L316.2 553.3 L319.1 554.1 L321.8 554.7 L324.4 554.9 L326.5 554.8 L328.3 554.5 L329.5 553.8 L330.2 552.9 Z"/>
<path class="w" d="M334.9 548.7 L335 547.3 L334.5 545.7 L333.3 543.9 L331.4 542 L329 540 L326.1 538.2 L322.8 536.4 L319.3 534.9 L315.7 533.6 L312.2 532.5 L308.8 531.9 L305.7 531.6 L303.1 531.7 L300.9 532.1 L299.4 532.9 L298.5 534.1 L297.2 537.4 L297 538.8 L297.6 540.5 L298.8 542.3 L300.6 544.2 L303.1 546.1 L306 548 L309.2 549.7 L312.7 551.3 L316.3 552.6 L319.9 553.6 L323.2 554.3 L326.3 554.6 L329 554.5 L331.1 554 L332.7 553.2 L333.5 552.1 Z"/>
<path class="l" d="M298.5 534.1 L298.4 535.5 L298.9 537.1 L300.1 538.9 L302 540.8 L304.4 542.8 L307.3 544.6 L310.6 546.4 L314.1 547.9 L317.7 549.2 L321.2 550.3 L324.6 550.9 L327.7 551.2 L330.3 551.1 L332.5 550.7 L334 549.9 L334.9 548.7"/>
<ellipse class="k" cx="317.4" cy="541.6" rx="13.2" ry="3.9" transform="rotate(202 317.4 541.6)"/>
<path class="t" d="M328.6 546.7 L328.6 546.2 L328.1 545.4 L327.3 544.6 L326.1 543.6 L324.6 542.7 L322.9 541.7 L320.9 540.7 L318.8 539.8 L316.7 539 L314.7 538.3 L312.7 537.8 L310.9 537.5 L309.4 537.3 L308.3 537.4 L307.5 537.6 L307 538.1"/>
<ellipse class="t" cx="317.6" cy="542.6" rx="7.6" ry="1.5" transform="rotate(202 317.6 542.6)"/>
<line class="l" x1="310.8" y1="554.2" x2="305.8" y2="565.8"/>
<path class="w" d="M279,603 L288,584 L297,590 L306.8,591.4 L303.6,603 Z"/>
<path class="l" d="M288,585.6 Q291,589.6 297,591.4 Q302,592.6 306.4,592.4"/>
<path class="k" d="M282.6,594.6 L290,598.6 M281,598 L287,601.4"/>
<path class="w" d="M311.8 575.4 L311.8 574.9 L311.5 574.2 L310.9 573.4 L309.9 572.6 L308.7 571.8 L307.2 571 L305.6 570.2 L303.9 569.5 L302.1 568.9 L300.4 568.5 L298.8 568.2 L297.3 568 L296 568 L295 568.2 L294.3 568.5 L294 569 L289.5 581.4 L289.4 581.9 L289.8 582.6 L290.4 583.4 L291.4 584.2 L292.6 585 L294.1 585.8 L295.7 586.6 L297.4 587.3 L299.2 587.9 L300.9 588.3 L302.5 588.6 L304 588.8 L305.3 588.8 L306.3 588.6 L307 588.3 L307.3 587.9 Z"/>
<path class="l" d="M294 569 L294 569.5 L294.3 570.2 L294.9 571 L295.9 571.8 L297.1 572.6 L298.6 573.4 L300.2 574.2 L301.9 574.9 L303.7 575.5 L305.4 575.9 L307 576.2 L308.5 576.4 L309.8 576.4 L310.8 576.2 L311.5 575.9 L311.8 575.4"/></g>
<!-- p_90_labels.py -->
<g><line class="l" x1="254.2" y1="66.7" x2="290.8" y2="74.7"/>
<line class="l" x1="242.5" y1="91.3" x2="278.3" y2="103.3"/>
<line class="l" x1="234.2" y1="120" x2="265" y2="128.3"/>
<line class="l" x1="222.7" y1="153.5" x2="250.7" y2="157.2"/>
<line class="l" x1="76" y1="185.9" x2="81.3" y2="222.7"/>
<line class="l" x1="146.7" y1="185.3" x2="170.7" y2="217.3"/>
<line class="l" x1="133.9" y1="209.3" x2="161.3" y2="228"/>
<line class="l" x1="77.3" y1="276.5" x2="110.7" y2="267.5"/>
<line class="l" x1="237.3" y1="233.9" x2="276" y2="227.5"/>
<line class="l" x1="228.8" y1="253.3" x2="269.3" y2="250.7"/>
<line class="l" x1="296" y1="308" x2="283" y2="332.5"/>
<line class="l" x1="63.3" y1="334" x2="83.3" y2="348.3"/>
<line class="l" x1="67.7" y1="399" x2="103.3" y2="379"/>
<line class="l" x1="181.7" y1="413.3" x2="211" y2="428"/>
<line class="l" x1="136.4" y1="488" x2="158.8" y2="508"/>
<line class="l" x1="77.1" y1="512" x2="78.4" y2="525"/>
<line class="l" x1="228" y1="573.2" x2="247.2" y2="568.8"/>
<line class="l" x1="68.8" y1="588.8" x2="102" y2="579.2"/>
<line class="l" x1="278" y1="489" x2="309.5" y2="510.5"/>
<line class="l" x1="267.5" y1="516.5" x2="300.5" y2="537.5"/>
<line class="l" x1="471.7" y1="212.3" x2="520" y2="202.7"/>
<line class="l" x1="461.7" y1="236.7" x2="506.7" y2="229"/>
<line class="l" x1="451.7" y1="256.7" x2="498.3" y2="250"/>
<line class="l" x1="447.3" y1="272.7" x2="490" y2="273.3"/>
<line class="l" x1="436.7" y1="306" x2="479.7" y2="299"/>
<line class="l" x1="421.7" y1="330" x2="470" y2="324"/>
<line class="l" x1="411.7" y1="353.3" x2="460" y2="345"/>
<g opacity="0.99">
<text transform="translate(292.9 80.3) scale(1.27 1)">21</text>
<text transform="translate(281.9 109.3) scale(1.27 1)">20</text>
<text transform="translate(270.9 134.3) scale(1.27 1)">19</text>
<text transform="translate(257.5 162.3) scale(1.27 1)">15</text>
<text transform="translate(65.3 184.3) scale(1.27 1)">12</text>
<text transform="translate(133.2 181.3) scale(1.27 1)">17</text>
<text transform="translate(117.9 210.3) scale(1.27 1)">16</text>
<text transform="translate(57.9 283.3) scale(1.27 1)">11</text>
<text transform="translate(280.9 229.3) scale(1.27 1)">9</text>
<text transform="translate(272.9 254.3) scale(1.27 1)">10</text>
<text transform="translate(291.1 305.3) scale(1.27 1)">12</text>
<text transform="translate(44.2 332.3) scale(1.27 1)">13</text>
<text transform="translate(46.9 407.3) scale(1.27 1)">18</text>
<text transform="translate(209.9 439.3) scale(1.27 1)">14</text>
<text transform="translate(117.9 483.3) scale(1.27 1)">24</text>
<text transform="translate(66.9 507.9) scale(1.27 1)">25</text>
<text transform="translate(247.9 572.5) scale(1.27 1)">25</text>
<text transform="translate(49.9 595.5) scale(1.27 1)">22</text>
<text transform="translate(268.7 488.5) scale(1.27 1)">1</text>
<text transform="translate(255.9 517.1) scale(1.27 1)">5</text>
<text transform="translate(524.9 204.3) scale(1.27 1)">8</text>
<text transform="translate(513.9 231.3) scale(1.27 1)">7</text>
<text transform="translate(502.9 252.3) scale(1.27 1)">3</text>
<text transform="translate(494.9 277.3) scale(1.27 1)">7</text>
<text transform="translate(485.9 302.3) scale(1.27 1)">6</text>
<text transform="translate(474.9 326.3) scale(1.27 1)">2</text>
<text transform="translate(465.9 347.3) scale(1.27 1)">4</text>
</g>
<rect x="469" y="289" width="21.5" height="21" fill="none" stroke="#ff0000" stroke-width="3.6"/></g>
</svg>
</body></html>
